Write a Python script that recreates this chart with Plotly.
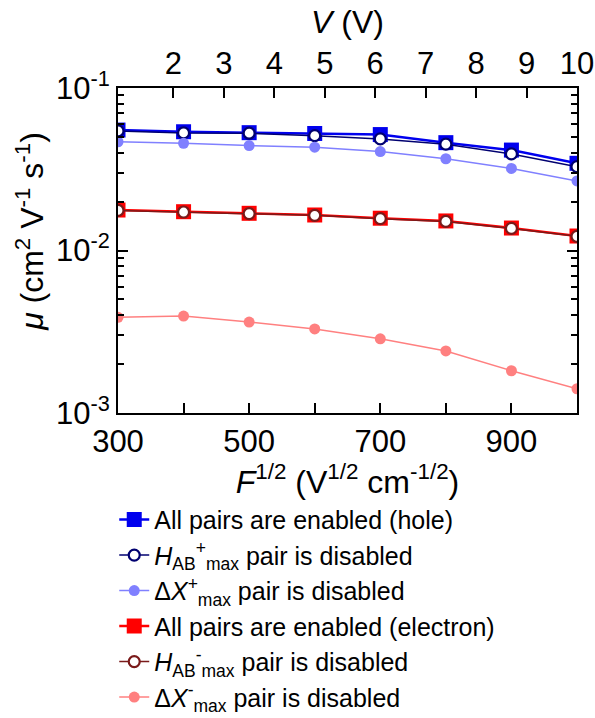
import plotly.graph_objects as go

# Data
F_half = [300, 400, 500, 600, 700, 800, 900, 1000]
hole_all = [0.0551, 0.0538, 0.0531, 0.0525, 0.0517, 0.0461, 0.0415, 0.0344]
hole_hab = [0.0544, 0.0529, 0.0527, 0.0509, 0.0486, 0.0451, 0.0393, 0.0328]
hole_dx = [0.0467, 0.0457, 0.0442, 0.0432, 0.0406, 0.0367, 0.0320, 0.0268]
elec_all = [0.01775, 0.01733, 0.01694, 0.01654, 0.0158, 0.0152, 0.01375, 0.01228]
elec_hab = [0.01765, 0.01725, 0.01688, 0.01645, 0.0157, 0.0151, 0.01368, 0.01222]
elec_dx = [0.00388, 0.00395, 0.00363, 0.00329, 0.00286, 0.00241, 0.00182, 0.00141]

x_tickvals = [300, 400, 500, 600, 700, 800, 900, 1000]
x_ticktext = ["300", "", "500", "", "700", "", "900", ""]
V_ticks = [2, 3, 4, 5, 6, 7, 8, 9, 10]
V_range = [0.9, 10]
y_tickvals = [1e-3, 1e-2, 1e-1]
y_ticktext = ["10<sup>-3</sup>", "10<sup>-2</sup>", "10<sup>-1</sup>"]
y_minor = [m * 10 ** e for e in (-3, -2) for m in range(2, 10)]
y_title = "<i>μ</i> (cm<sup>2</sup> V<sup>-1</sup> s<sup>-1</sup>)"

FONT = "Arial, Liberation Sans, sans-serif"
TICK = 31
TITLE = 32

series = [
    ("All pairs are enabled (hole)", hole_all, dict(symbol="square", size=15, color="#0000ee",
                                                    line=dict(width=0)), dict(color="#0000ee", width=2.5)),
    ("<i>H</i><sub>AB</sub><sup>+</sup><sub>max</sub> pair is disabled", hole_hab,
     dict(symbol="circle", size=11, color="white", line=dict(width=2.2, color="#000070")),
     dict(color="#000070", width=1.5)),
    ("Δ<i>X</i><sup>+</sup><sub>max</sub> pair is disabled", hole_dx,
     dict(symbol="circle", size=11, color="#8080ff", line=dict(width=0)),
     dict(color="#8080ff", width=1.5)),
    ("All pairs are enabled (electron)", elec_all, dict(symbol="square", size=15, color="#ff0000",
                                                        line=dict(width=0)), dict(color="#ff0000", width=2.5)),
    ("<i>H</i><sub>AB</sub><sup>-</sup><sub>max</sub> pair is disabled", elec_hab,
     dict(symbol="circle", size=11, color="white", line=dict(width=2.2, color="#7a1a1a")),
     dict(color="#7a1a1a", width=1.5)),
    ("Δ<i>X</i><sup>-</sup><sub>max</sub> pair is disabled", elec_dx,
     dict(symbol="circle", size=11, color="#ff8080", line=dict(width=0)),
     dict(color="#ff8080", width=1.5)),
]

fig = go.Figure()
for i, (name, vals, mk, ln) in enumerate(series):
    fig.add_trace(go.Scatter(x=F_half, y=vals, mode="lines+markers", name=name,
                             marker=mk, line=ln, legendgroup=f"g{i}"))

# invisible helper trace so that the top (V) axis is drawn
fig.add_trace(go.Scatter(x=V_range, y=[None, None], xaxis="x2", yaxis="y", mode="lines",
                         showlegend=False, hoverinfo="skip", line=dict(width=0)))

axis_common = dict(showline=True, linecolor="black", linewidth=2, ticks="inside",
                   tickcolor="black", tickwidth=1.5, showgrid=False, zeroline=False,
                   automargin=True,
                   tickfont=dict(size=TICK, family=FONT, color="black"))

fig.update_layout(
    width=595, height=718,
    margin=dict(l=118, r=18, t=88, b=305, autoexpand=False),
    paper_bgcolor="white", plot_bgcolor="white",
    font=dict(family=FONT, color="black"),
    showlegend=True,
    legend=dict(xref="container", yref="container", x=0.192, y=0.308,
                xanchor="left", yanchor="top",
                font=dict(size=25, family=FONT, color="black"),
                tracegroupgap=0, itemwidth=30, bgcolor="rgba(0,0,0,0)"),
    xaxis=dict(range=[300, 1000], tickvals=x_tickvals, ticktext=x_ticktext, ticklen=10,
               title=dict(text="<i>F</i><sup>1/2</sup> (V<sup>1/2</sup> cm<sup>-1/2</sup>)",
                          font=dict(size=TITLE, family=FONT, color="black"), standoff=4),
               **axis_common),
    xaxis2=dict(overlaying="x", side="top", range=V_range, tickvals=V_ticks, ticklen=10,
                title=dict(text="<i>V</i> (V)", font=dict(size=TITLE, family=FONT, color="black"),
                           standoff=2),
                anchor="y", **axis_common),
    yaxis=dict(type="log", range=[-3, -1], tickvals=y_tickvals, ticktext=y_ticktext, ticklen=10,
               mirror="ticks",
               minor=dict(ticks="inside", ticklen=6, tickcolor="black", tickwidth=1.5,
                          tickvals=y_minor, showgrid=False),
               **axis_common),
    annotations=[dict(text=y_title, xref="paper", yref="paper", x=-0.192, y=0.56,
                      xanchor="center", yanchor="middle", textangle=-90, showarrow=False,
                      font=dict(size=TITLE, family=FONT, color="black"))],
)

fig.write_html("out.html")
